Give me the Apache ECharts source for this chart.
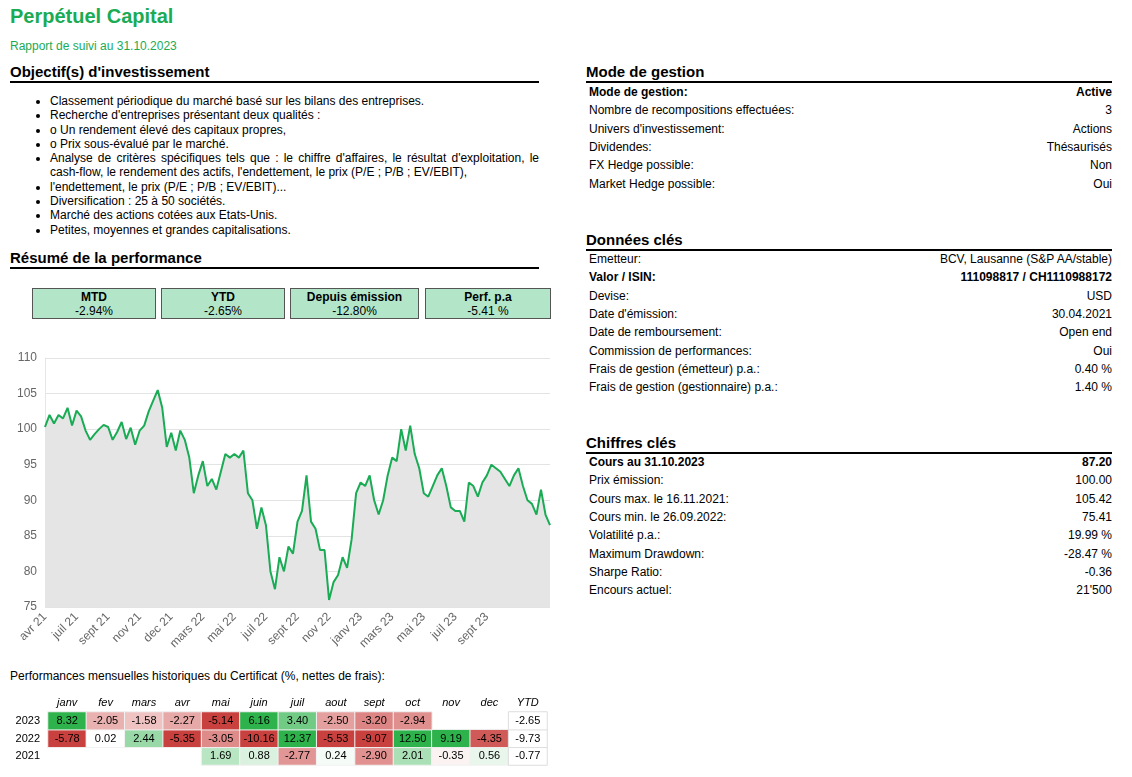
<!DOCTYPE html>
<html>
<head>
<meta charset="utf-8">
<script src="https://cdn.jsdelivr.net/npm/echarts@6/dist/echarts.min.js"></script>
<style>
body{margin:0;width:1132px;height:777px;background:#fff;font-family:"Liberation Sans",Arial,sans-serif;color:#000;position:relative;overflow:hidden}
.abs{position:absolute}
h1{position:absolute;left:10px;top:5px;margin:0;font-size:20px;color:#1aab55}
.sub{left:10px;top:39px;font-size:12px;color:#1aab55}
.hd{position:absolute;font-size:15px;font-weight:bold;border-bottom:2px solid #000;padding-bottom:0;line-height:18px}
ul{position:absolute;left:10px;top:94px;margin:0;padding-left:40px;width:489px;font-size:12px;line-height:14.3px}
.kpi{position:absolute;top:288px;height:31px;background:#b3e6c9;border:1px solid #555;text-align:center;font-size:12px;line-height:14px;box-sizing:border-box;padding-top:1px}
table{position:absolute;left:586px;width:526px;border-collapse:collapse;font-size:12px}
td{padding:0 0 0 3px;height:18.3px}
td.r{text-align:right;padding-right:0}
tr.b td{font-weight:bold}
</style>
</head>
<body>
<h1>Perpétuel Capital</h1>
<div class="abs sub">Rapport de suivi au 31.10.2023</div>
<div class="hd" style="left:10px;top:63px;width:529px">Objectif(s) d'investissement</div>
<ul>
<li>Classement périodique du marché basé sur les bilans des entreprises.</li>
<li>Recherche d'entreprises présentant deux qualités :</li>
<li>o Un rendement élevé des capitaux propres,</li>
<li>o Prix sous-évalué par le marché.</li>
<li style="text-align:justify">Analyse de critères spécifiques tels que : le chiffre d'affaires, le résultat d'exploitation, le cash-flow, le rendement des actifs, l'endettement, le prix (P/E ; P/B ; EV/EBIT),</li>
<li>l'endettement, le prix (P/E ; P/B ; EV/EBIT)...</li>
<li>Diversification : 25 à 50 sociétés.</li>
<li>Marché des actions cotées aux Etats-Unis.</li>
<li>Petites, moyennes et grandes capitalisations.</li>
</ul>
<div class="hd" style="left:10px;top:249px;width:529px">Résumé de la performance</div>
<div class="kpi" style="left:32px;width:124px"><b>MTD</b><br>-2.94%</div>
<div class="kpi" style="left:161px;width:124px"><b>YTD</b><br>-2.65%</div>
<div class="kpi" style="left:290px;width:129px"><b>Depuis émission</b><br>-12.80%</div>
<div class="kpi" style="left:425px;width:126px"><b>Perf. p.a</b><br>-5.41 %</div>
<div id="line" class="abs" style="left:0;top:345px;width:560px;height:320px"></div>
<div class="abs" style="left:10px;top:669px;font-size:12px">Performances mensuelles historiques du Certificat (%, nettes de frais):</div>
<div id="heat" class="abs" style="left:0;top:690px;width:560px;height:77px"></div>

<div class="hd" style="left:586px;top:63px;width:526px">Mode de gestion</div>
<table style="top:83px">
<tr class="b"><td>Mode de gestion:</td><td class="r">Active</td></tr>
<tr><td>Nombre de recompositions effectuées:</td><td class="r">3</td></tr>
<tr><td>Univers d'investissement:</td><td class="r">Actions</td></tr>
<tr><td>Dividendes:</td><td class="r">Thésaurisés</td></tr>
<tr><td>FX Hedge possible:</td><td class="r">Non</td></tr>
<tr><td>Market Hedge possible:</td><td class="r">Oui</td></tr>
</table>
<div class="hd" style="left:586px;top:231px;width:526px">Données clés</div>
<table style="top:250px">
<tr><td>Emetteur:</td><td class="r">BCV, Lausanne (S&amp;P AA/stable)</td></tr>
<tr class="b"><td>Valor / ISIN:</td><td class="r">111098817 / CH1110988172</td></tr>
<tr><td>Devise:</td><td class="r">USD</td></tr>
<tr><td>Date d'émission:</td><td class="r">30.04.2021</td></tr>
<tr><td>Date de remboursement:</td><td class="r">Open end</td></tr>
<tr><td>Commission de performances:</td><td class="r">Oui</td></tr>
<tr><td>Frais de gestion (émetteur) p.a.:</td><td class="r">0.40 %</td></tr>
<tr><td>Frais de gestion (gestionnaire) p.a.:</td><td class="r">1.40 %</td></tr>
</table>
<div class="hd" style="left:586px;top:434px;width:526px">Chiffres clés</div>
<table style="top:453px">
<tr class="b"><td>Cours au 31.10.2023</td><td class="r">87.20</td></tr>
<tr><td>Prix émission:</td><td class="r">100.00</td></tr>
<tr><td>Cours max. le 16.11.2021:</td><td class="r">105.42</td></tr>
<tr><td>Cours min. le 26.09.2022:</td><td class="r">75.41</td></tr>
<tr><td>Volatilité p.a.:</td><td class="r">19.99 %</td></tr>
<tr><td>Maximum Drawdown:</td><td class="r">-28.47 %</td></tr>
<tr><td>Sharpe Ratio:</td><td class="r">-0.36</td></tr>
<tr><td>Encours actuel:</td><td class="r">21'500</td></tr>
</table>

<script>
// cours du certificat (lecture approximative sur le graphique)
var prices = [100.3,102,100.8,102,101.5,103,100.5,102.6,101.8,99.8,98.5,
  99.3,100,100.6,100.3,98.5,99.6,101,98.6,100.2,97.8,
  99.8,100.5,102.5,104,105.5,103,97.5,99.5,97,99.8,
  98.5,96,91,93.5,95.5,92,93,91.5,94,96.5,
  96,96.5,96,97,91,90,86,89,86.5,80,
  77.5,82,80,83.5,82.5,87,88.5,93.5,87,86,
  83,83,76,78.5,79.5,82,80.5,84.5,91,92.5,
  92,93.5,90,88,90,93.5,96,95.5,100,97,
  100.5,96.5,94.5,91,90.5,92,93.5,94.5,92,89,
  88.5,88.5,87,92.5,92,90.5,92.5,93.5,95,94.5,
  94,93,92,93.5,94.5,92,90,89.5,88,91.5,
  88,86.5];
var tickLabels = ['avr 21','juil 21','sept 21','nov 21','dec 21','mars 22','mai 22','juil 22','sept 22','nov 22','janv 23','mars 23','mai 23','juil 23','sept 23'];
var tickStep = 7;

var months = ['janv','fev','mars','avr','mai','juin','juil','aout','sept','oct','nov','dec'];
var years = ['2021','2022','2023'];
var perf2023 = [8.32,-2.05,-1.58,-2.27,-5.14,6.16,3.40,-2.50,-3.20,-2.94,null,null];
var perf2022 = [-5.78,0.02,2.44,-5.35,-3.05,-10.16,12.37,-5.53,-9.07,12.50,9.19,-4.35];
var perf2021 = [null,null,null,null,1.69,0.88,-2.77,0.24,-2.90,2.01,-0.35,0.56];
var ytd = {'2023':-2.65,'2022':-9.73,'2021':-0.77};

var cats = prices.map(function(p,i){
  return (i % tickStep === 0 && tickLabels[i/tickStep]) ? tickLabels[i/tickStep] : '';
});

var line = echarts.init(document.getElementById('line'));
line.setOption({
  animation:false,
  grid:{left:45,right:10,top:13,bottom:58},
  xAxis:{type:'category',data:cats,boundaryGap:false,
    axisLine:{show:false},axisTick:{show:false},
    axisLabel:{interval:function(i,v){return v!=='';},rotate:45,color:'#666',fontSize:12,fontFamily:'Liberation Sans'}},
  yAxis:{type:'value',min:75,max:110,interval:5,
    axisLabel:{color:'#666',fontSize:12,fontFamily:'Liberation Sans'},
    axisLine:{show:true,lineStyle:{color:'#e6e6e6'}},
    splitLine:{lineStyle:{color:'#e3e3e3'}}},
  series:[{type:'line',data:prices,showSymbol:false,
    lineStyle:{color:'#1aab55',width:2},
    areaStyle:{color:'#e5e5e5',opacity:1}}]
});

var rows = {'2023':perf2023,'2022':perf2022,'2021':perf2021};
var cells = [];
years.forEach(function(y,yi){
  rows[y].forEach(function(v,mi){ if(v!==null) cells.push([mi,yi,v]); });
});
var ytdCells = years.map(function(y,yi){ return [12,yi,ytd[y]]; });

var heat = echarts.init(document.getElementById('heat'));
heat.setOption({
  animation:false,
  grid:{left:48,right:13,top:22,bottom:2},
  xAxis:{type:'category',position:'top',data:months.concat(['YTD']),
    axisLine:{show:false},axisTick:{show:false},
    axisLabel:{fontStyle:'italic',color:'#000',fontSize:11,margin:4,fontFamily:'Liberation Sans'}},
  yAxis:{type:'category',data:years,axisLine:{show:false},axisTick:{show:false},
    axisLabel:{color:'#000',fontSize:11,margin:8,fontFamily:'Liberation Sans'}},
  visualMap:{show:false,seriesIndex:0,min:-5,max:5,
    inRange:{color:['#c9413f','#ffffff','#2eb24b']}},
  series:[
    {type:'heatmap',data:cells,label:{show:true,fontSize:11,color:'#000',
      formatter:function(p){return p.value[2].toFixed(2);}},
      itemStyle:{borderColor:'#f2f2f2',borderWidth:1}},
    {type:'heatmap',data:ytdCells,label:{show:true,fontSize:11,color:'#000',
      formatter:function(p){return p.value[2].toFixed(2);}},
      itemStyle:{color:'#fff',borderColor:'#ddd',borderWidth:1}}
  ]
});
</script>
</body>
</html>
